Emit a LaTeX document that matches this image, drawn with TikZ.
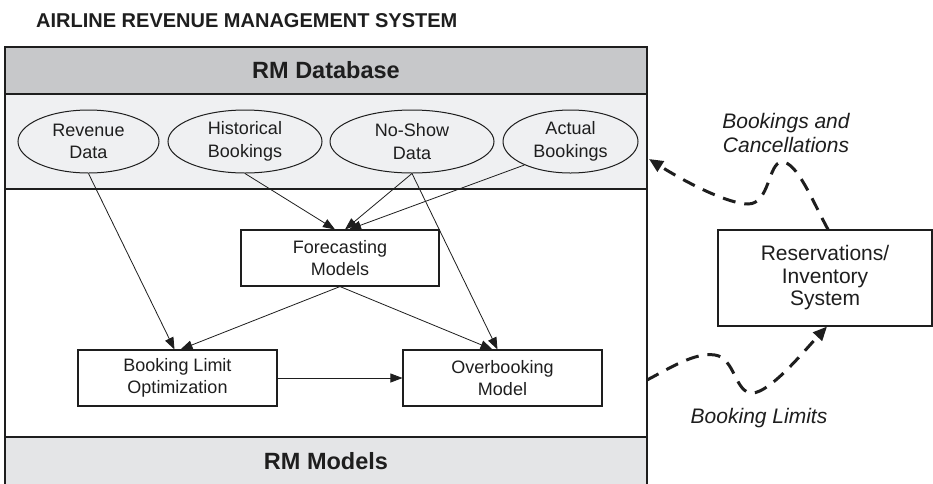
\documentclass[tikz,border=0pt]{standalone}
\usepackage{fontspec}
\setmainfont{Liberation Sans}
\usetikzlibrary{arrows.meta,shapes.geometric}
\definecolor{hdrgray}{RGB}{199,200,202}
\definecolor{bandgray}{RGB}{239,240,242}
\definecolor{modgray}{RGB}{228,229,231}
\definecolor{ink}{RGB}{30,30,30}
\begin{document}
\begin{tikzpicture}[x=1pt,y=-1pt,
  bodytext/.style={font=\fontsize{18}{22.5}\selectfont, align=center, text=ink},
  datanode/.style={ellipse, draw=ink, line width=1pt, inner sep=0pt, minimum height=63pt, bodytext},
  modelbox/.style={rectangle, draw=ink, line width=1.1pt, fill=white, inner sep=0pt, bodytext},
  flow/.style={draw=ink, line width=0.8pt, -{Triangle[length=12pt,width=9pt]}},
  feed/.style={draw=ink, line width=3pt, dash pattern=on 13pt off 9pt, -{Triangle[length=14pt,width=12pt]}},
  panel/.style={draw=ink, line width=1.5pt},
  heading/.style={font=\fontsize{23.5}{26}\selectfont\bfseries, text=ink},
  feedlabel/.style={font=\fontsize{21}{23.5}\selectfont\itshape, align=center, text=ink}
]
% canvas
\fill[white] (0,0) rectangle (933,483);
\useasboundingbox (0,0) rectangle (933,483);

% title
\node[anchor=base west, inner sep=0pt, font=\fontsize{20}{24}\selectfont\bfseries, text=ink]
  (title) at (36,27) {AIRLINE REVENUE MANAGEMENT SYSTEM};

% system frame with its bands
\fill[hdrgray] (5,47) rectangle (647,94);
\fill[bandgray] (5,94) rectangle (647,189);
\fill[modgray] (5,437) rectangle (647,490);
\draw[panel] (5,490) -- (5,47) -- (647,47) -- (647,490);
\draw[panel] (5,94) -- (647,94);
\draw[panel] (5,189) -- (647,189);
\draw[panel] (5,437) -- (647,437);
\node[heading] (dbhead) at (326,70.5) {RM Database};
\node[heading] (modhead) at (326,461.5) {RM Models};

% data stores
\node[datanode, minimum width=141pt] (rev)  at (88.5,141.5) {Revenue\\Data};
\node[datanode, minimum width=154pt] (hist) at (245,141.5)  {Historical\\Bookings};
\node[datanode, minimum width=164pt] (ns)   at (412,141.5)  {No-Show\\Data};
\node[datanode, minimum width=135pt] (act)  at (570.5,141.5) {Actual\\Bookings};

% models
\node[modelbox, minimum width=198pt, minimum height=56pt] (fm) at (340,258) {Forecasting\\Models};
\node[modelbox, minimum width=199pt, minimum height=56pt] (bl) at (177.5,378) {Booking Limit\\Optimization};
\node[modelbox, minimum width=199pt, minimum height=56pt] (ob) at (502.5,378) {Overbooking\\Model};

% external system
\node[modelbox, minimum width=214pt, minimum height=96pt, font=\fontsize{21}{22.5}\selectfont] (res) at (825,278) {Reservations/\\Inventory\\System};

% data flow inside the RM system
\draw[flow] (rev.south) -- ([xshift=-3pt]bl.north);
\draw[flow] (hist.south) -- ([xshift=-5pt]fm.north);
\draw[flow] (ns.south) -- ([xshift=5pt]fm.north);
\draw[flow] (act.207) -- ([xshift=9pt]fm.north);
\draw[flow] (ns.south) -- ([xshift=-5pt]ob.north);
\draw[flow] (fm.south) -- ([xshift=3pt]bl.north);
\draw[flow] (fm.south) -- ([xshift=-10pt]ob.north);
\draw[flow] (bl.east) -- (ob.west);

% exchange with the reservations system
\coordinate (dbin) at (649,159);
\coordinate (rmout) at (647,380);
\draw[feed] ([xshift=3pt]res.north) .. controls (812,200) and (797,162) .. (782,162)
  .. controls (768,162) and (770,204) .. (748,204)
  .. controls (730,204) and (690,185) .. (dbin);
\draw[feed] (rmout) .. controls (670,368) and (695,352) .. (715,355)
  .. controls (735,358) and (735,393) .. (752,393)
  .. controls (770,393) and (805,350) .. ([xshift=2pt]res.south);

\node[feedlabel] (bclabel) at (786,133) {Bookings and\\Cancellations};
\node[feedlabel] (bllabel) at (759,418) {Booking Limits};
\end{tikzpicture}
\end{document}
